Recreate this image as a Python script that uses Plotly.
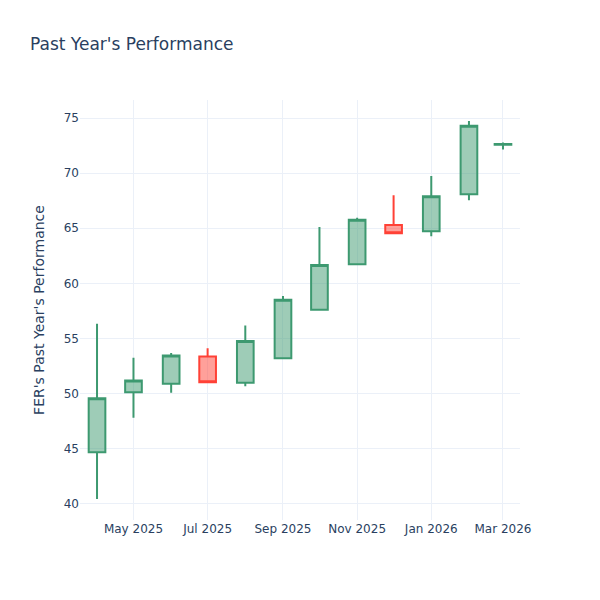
import plotly.graph_objects as go

dates = ["2025-04-01", "2025-05-01", "2025-06-01", "2025-07-01", "2025-08-01", "2025-09-01",
         "2025-10-01", "2025-11-01", "2025-12-01", "2026-01-01", "2026-02-01", "2026-03-01"]
open_ = [44.67, 50.12, 50.88, 53.36, 50.97, 53.21, 57.61, 61.73, 65.30, 64.73, 68.09, 72.58]
high = [56.33, 53.24, 53.67, 54.12, 56.18, 58.85, 65.12, 65.94, 68.00, 69.73, 74.73, 72.79]
low = [40.43, 47.80, 50.06, 51.03, 50.67, 53.21, 57.61, 61.73, 64.55, 64.27, 67.55, 72.15]
close = [49.57, 51.18, 53.45, 51.03, 54.76, 58.52, 61.67, 65.76, 64.55, 67.91, 74.30, 72.65]

fig = go.Figure(go.Candlestick(x=dates, open=open_, high=high, low=low, close=close))
fig.update_layout(
    template="plotly_white",
    width=600, height=600,
    font_family="DejaVu Sans",
    title="Past Year's Performance",
    yaxis_title="FER's Past Year's Performance",
    xaxis_rangeslider_visible=False,
)
fig.write_html("out.html", config={"displayModeBar": False},
               post_script="document.body.style.margin='0';")
